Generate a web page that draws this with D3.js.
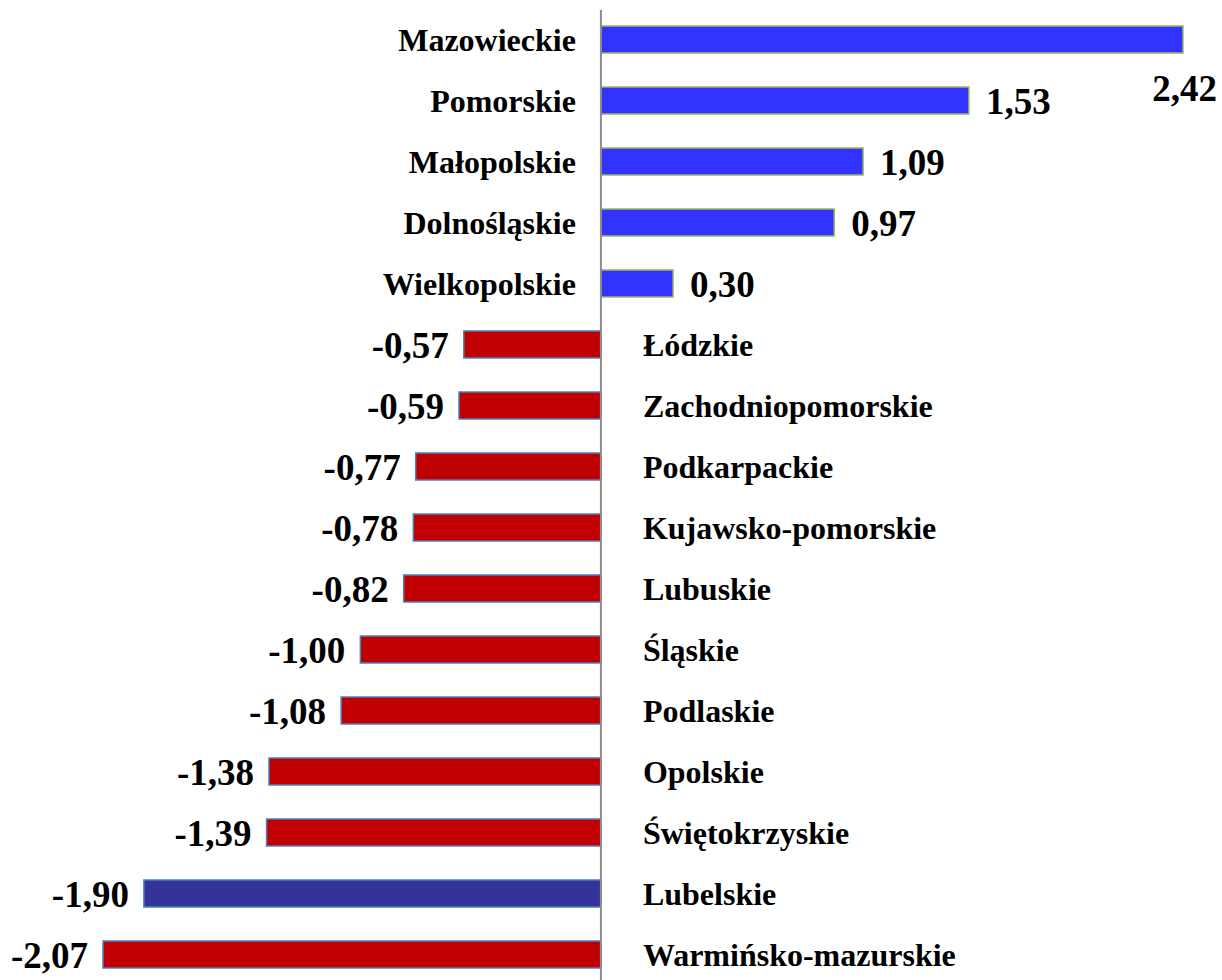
<!doctype html>
<html lang="pl">
<head>
    <meta charset="UTF-8">
    <title>Województwa</title>
    <script type="text/javascript" src="https://cdn.jsdelivr.net/npm/d3@7/dist/d3.min.js"></script>
    <style type="text/css">
        body {
            margin: 0;
            background: #fff;
        }
    </style>
</head>
<body>
<script type="text/javascript">

    var regions = ["Mazowieckie", "Pomorskie", "Małopolskie", "Dolnośląskie", "Wielkopolskie",
        "Łódzkie", "Zachodniopomorskie", "Podkarpackie", "Kujawsko-pomorskie", "Lubuskie",
        "Śląskie", "Podlaskie", "Opolskie", "Świętokrzyskie", "Lubelskie", "Warmińsko-mazurskie"];
    var values = [2.42, 1.53, 1.09, 0.97, 0.30,
        -0.57, -0.59, -0.77, -0.78, -0.82,
        -1.00, -1.08, -1.38, -1.39, -1.90, -2.07];
    var highlighted = ["Lubelskie"];

    var w = 1222;
    var h = 980;
    var font = "'Liberation Serif', 'DejaVu Serif', serif";

    var dataset = regions.map(function (r, i) {
        return {name: r, value: values[i]};
    });

    var xScale = d3.scaleLinear()
        .domain(d3.extent(values))
        .range([103, 1183]);

    var yScale = d3.scaleBand()
        .domain(regions)
        .range([9, 985])
        .paddingInner(0.557)
        .paddingOuter(0.557 / 2);

    var fmt = function (v) {
        return v.toFixed(2).replace(".", ",");
    };

    var svg = d3.select("body")
        .append("svg")
        .attr("width", w)
        .attr("height", h);

    // bars
    svg.selectAll("rect.bar")
        .data(dataset)
        .enter()
        .append("rect")
        .attr("class", "bar")
        .attr("x", function (d) {
            return xScale(Math.min(0, d.value));
        })
        .attr("y", function (d) {
            return yScale(d.name);
        })
        .attr("width", function (d) {
            return Math.abs(xScale(d.value) - xScale(0));
        })
        .attr("height", yScale.bandwidth())
        .attr("fill", function (d) {
            if (highlighted.indexOf(d.name) >= 0) return "#333399";
            return d.value >= 0 ? "#3333ff" : "#c00000";
        })
        .attr("stroke", function (d) {
            return d.value >= 0 ? "#9bbb59" : "#4f81bd";
        })
        .attr("stroke-width", 1.5);

    // zero axis line
    svg.append("line")
        .attr("x1", xScale(0))
        .attr("x2", xScale(0))
        .attr("y1", 10)
        .attr("y2", h)
        .attr("stroke", "#8c8c8c")
        .attr("stroke-width", 2);

    var mid = function (d) {
        return yScale(d.name) + yScale.bandwidth() / 2;
    };

    // region names, opposite side of the bar
    svg.selectAll("text.name")
        .data(dataset)
        .enter()
        .append("text")
        .attr("class", "name")
        .text(function (d) {
            return d.name;
        })
        .attr("x", function (d) {
            return d.value >= 0 ? xScale(0) - 25 : xScale(0) + 42;
        })
        .attr("y", function (d) {
            return mid(d) + 11;
        })
        .attr("text-anchor", function (d) {
            return d.value >= 0 ? "end" : "start";
        })
        .attr("font-family", font)
        .attr("font-weight", "bold")
        .attr("font-size", "32px");

    // value labels at bar ends
    svg.selectAll("text.val")
        .data(dataset)
        .enter()
        .append("text")
        .attr("class", "val")
        .text(function (d) {
            return fmt(d.value);
        })
        .attr("font-family", font)
        .attr("font-weight", "bold")
        .attr("font-size", "37px")
        .each(function (d) {
            var t = d3.select(this);
            var end = xScale(d.value);
            var bw = this.getComputedTextLength();
            if (d.value >= 0 && end + 17 + bw > w) {
                // no room on the right: put it under the bar
                t.attr("x", w - 5).attr("y", mid(d) + yScale.step()).attr("text-anchor", "end");
            } else if (d.value >= 0) {
                t.attr("x", end + 17).attr("y", mid(d) + 13).attr("text-anchor", "start");
            } else {
                t.attr("x", end - 15).attr("y", mid(d) + 13).attr("text-anchor", "end");
            }
        });

</script>
</body>
</html>
